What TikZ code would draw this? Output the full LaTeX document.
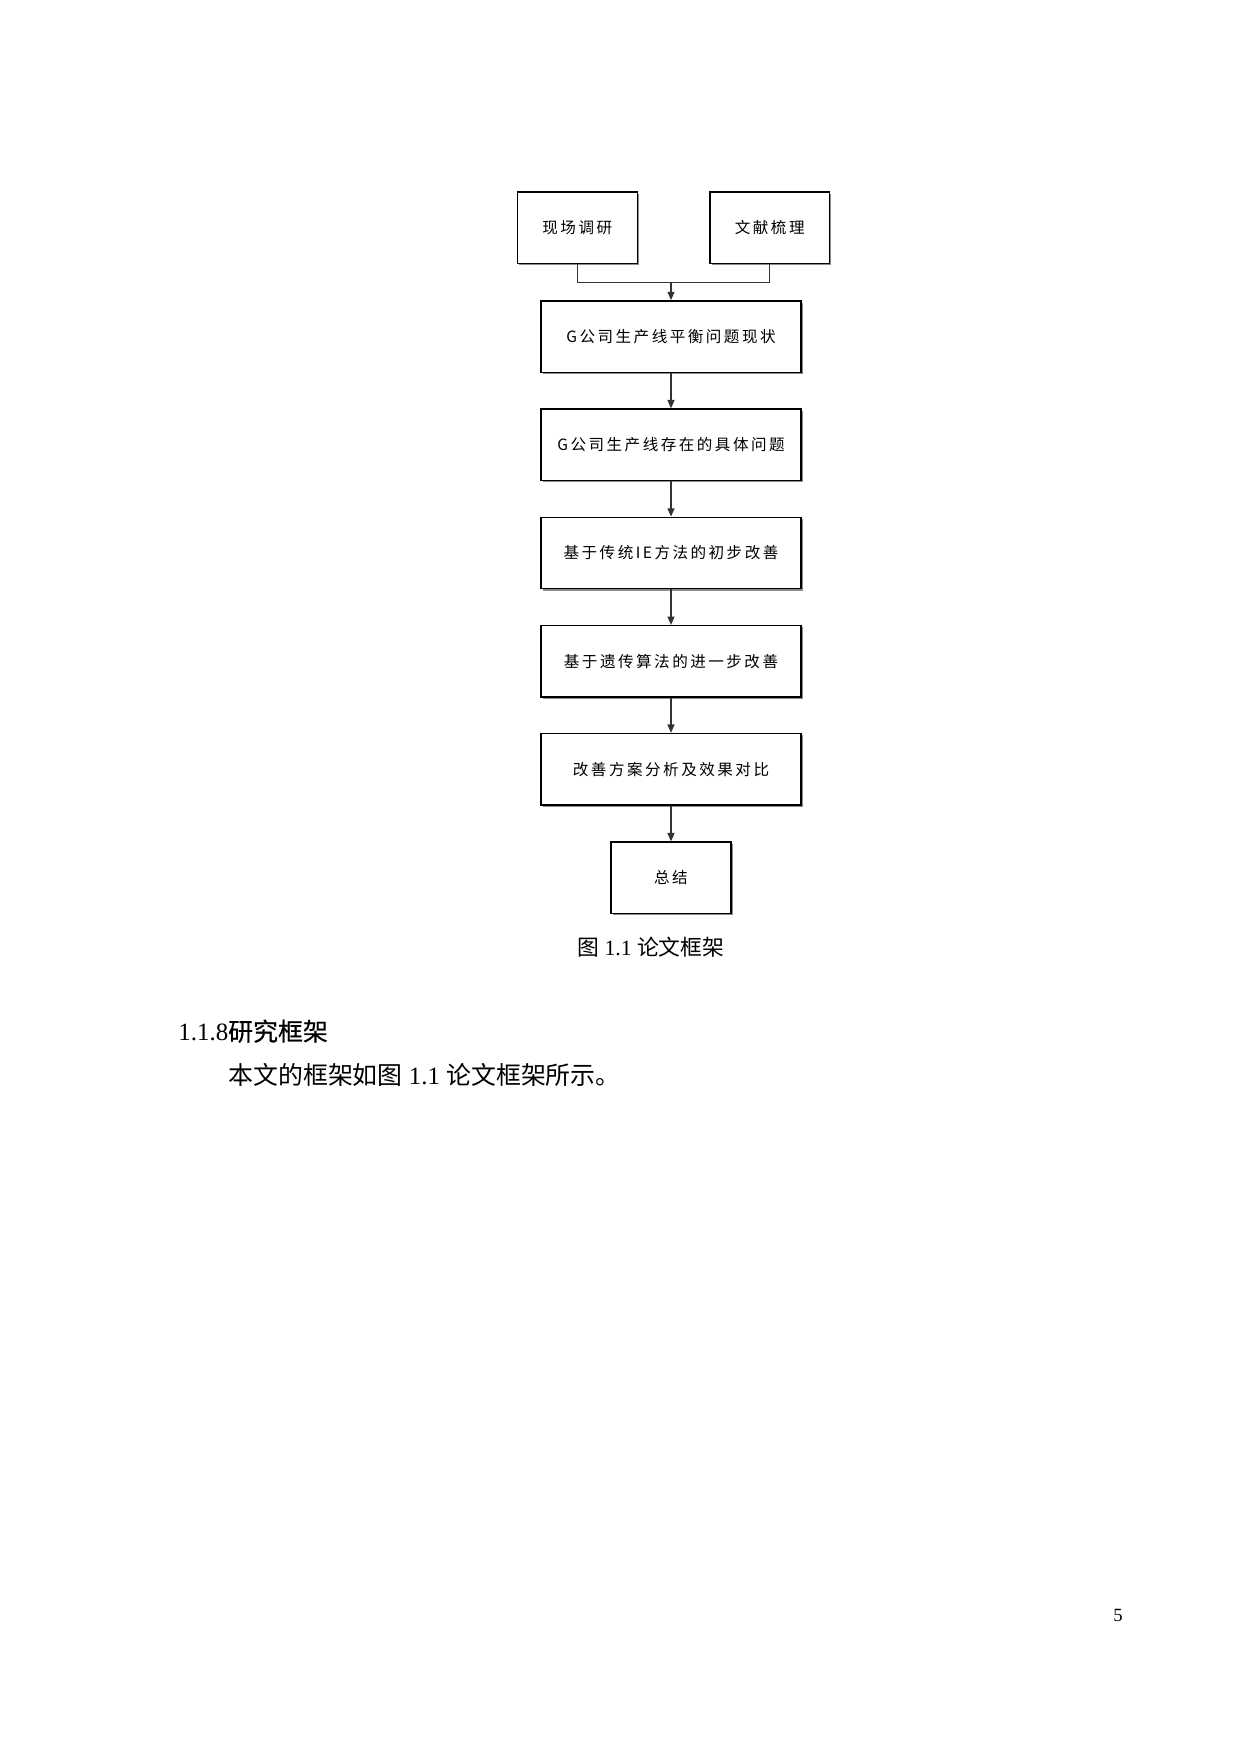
\documentclass[tikz,border=0pt]{standalone}
\usepackage{fontspec}
\setmainfont{Liberation Serif}
\newfontfamily\cjk{Noto Sans CJK SC}
\newfontfamily\cjkhei[FakeBold=0.5]{Noto Sans CJK SC}
\newfontfamily\boxfont[LetterSpace=16]{Noto Sans CJK SC}
\usetikzlibrary{arrows.meta,shadows}
\begin{document}
\begin{tikzpicture}[x=0.16935mm,y=-0.16935mm]
        \tikzstyle{step box}=[rectangle,draw=black,line width=0.7pt,fill=white,minimum width=44mm,minimum height=12.1mm,inner sep=0pt,
          font=\fontsize{7.5pt}{9pt}\boxfont,drop shadow={shadow xshift=0.3mm,shadow yshift=-0.3mm,fill=black!45,opacity=1}]
        \tikzstyle{small box}=[step box,minimum width=20.3mm]
        \tikzstyle{arrow}=[draw=black!80,line width=0.5pt,-{Triangle[length=1.4mm,width=1.2mm]}]
        \tikzstyle{line}=[draw=black!80,line width=0.5pt]
        \tikzstyle{page text}=[inner sep=0pt,anchor=base west,font=\fontsize{12pt}{14pt}\selectfont]
        \useasboundingbox (0,0) rectangle (1240,1754);
       \begin{scope}
         \node [small box] (xc) at (577.3,227.8) {现场调研};
         \node [small box] (wx) at (769.7,227.8) {文献梳理};
         \coordinate (merge) at (671,282.3);
         \node [step box] (s1) at (671,336.5) {G公司生产线平衡问题现状};
         \node [step box] (s2) at (671,444.7) {G公司生产线存在的具体问题};
         \node [step box] (s3) at (671,553) {基于传统IE方法的初步改善};
         \node [step box] (s4) at (671,661.3) {基于遗传算法的进一步改善};
         \node [step box] (s5) at (671,769.2) {改善方案分析及效果对比};
         \node [small box] (zj) at (671,877.7) {总结};

         \path[line] (xc.south) |- (merge) -| (wx.south);
         \path[arrow] (merge) -- (s1.north);
         \path[arrow] (s1) -- (s2);
         \path[arrow] (s2) -- (s3);
         \path[arrow] (s3) -- (s4);
         \path[arrow] (s4) -- (s5);
         \path[arrow] (s5) -- (zj);
        \end{scope}
        \node [page text,anchor=base,font=\fontsize{10.5pt}{12pt}\selectfont] (caption) at (650.8,955) {{\cjk 图} 1.1 {\cjk 论文框架}};
        \node [page text] (heading) at (178,1040.7) {1.1.8{\cjkhei 研究框架}};
        \node [page text] (body) at (228,1084) {{\cjk 本文的框架如图} 1.1 {\cjk 论文框架所示。}};
        \node [page text,anchor=base,font=\fontsize{9pt}{10pt}\selectfont] (pageno) at (1118,1621) {5};
      \end{tikzpicture}
\end{document}
